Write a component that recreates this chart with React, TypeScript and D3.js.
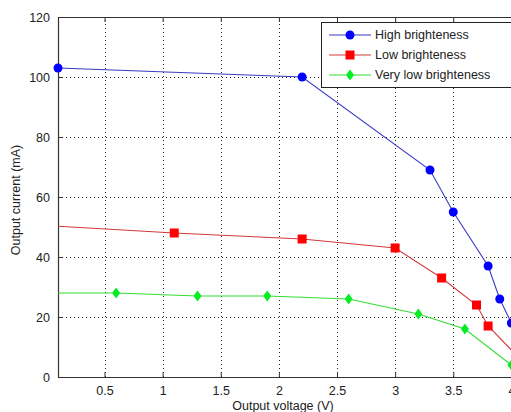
import React, { useEffect, useRef } from "react";
import * as d3 from "d3";

// output voltage (V) / output current (mA)
const highX = [0.1, 2.2, 3.3, 3.5, 3.8, 3.9, 4.0, 4.1];
const highY = [103, 100, 69, 55, 37, 26, 18, 8];
const lowX = [0, 1.1, 2.2, 3.0, 3.4, 3.7, 3.8, 4.1];
const lowY = [50.5, 48, 46, 43, 33, 24, 17, 5];
const veryLowX = [0, 0.6, 1.3, 1.9, 2.6, 3.2, 3.6, 4.0];
const veryLowY = [28, 28, 27, 27, 26, 21, 16, 4];

const seriesNames = ["High brighteness", "Low brighteness", "Very low brighteness"];
const xTicks = [0.5, 1, 1.5, 2, 2.5, 3, 3.5, 4];
const yTicks = [0, 20, 40, 60, 80, 100, 120];

const App = () => {
  const ref = useRef<SVGSVGElement>(null);

  useEffect(() => {
    drawChart();
  }, []);

  const drawChart = () => {
    const width = 511,
      height = 412;
    const margin = { top: 17, right: -12, bottom: 35, left: 58 };

    const svg = d3.select(ref.current);
    svg.selectAll("*").remove();

    const x = d3
      .scaleLinear()
      .domain([0.1, 4.1])
      .range([margin.left, width - margin.right]);
    const y = d3
      .scaleLinear()
      .domain([0, 120])
      .range([height - margin.bottom, margin.top]);

    const x0 = margin.left,
      x1 = width - margin.right,
      y0 = height - margin.bottom,
      y1 = margin.top;

    svg.append("rect").attr("x", 0).attr("y", 0).attr("width", width).attr("height", height).attr("fill", "#fff");

    svg
      .append("defs")
      .append("clipPath")
      .attr("id", "plot-clip")
      .append("rect")
      .attr("x", x0)
      .attr("y", y1)
      .attr("width", x1 - x0)
      .attr("height", y0 - y1);

    // grid
    const grid = svg.append("g").attr("stroke", "#222").attr("stroke-width", 1).attr("stroke-dasharray", "1,3");
    grid
      .selectAll("line.gx")
      .data(xTicks)
      .join("line")
      .attr("x1", (d) => Math.round(x(d)) + 0.5)
      .attr("x2", (d) => Math.round(x(d)) + 0.5)
      .attr("y1", y0)
      .attr("y2", y1);
    grid
      .selectAll("line.gy")
      .data(yTicks.filter((d) => d > 0 && d < 120))
      .join("line")
      .attr("x1", x0)
      .attr("x2", x1)
      .attr("y1", (d) => Math.round(y(d)) + 0.5)
      .attr("y2", (d) => Math.round(y(d)) + 0.5);

    // axes
    const xAxis = (g) =>
      g
        .attr("transform", `translate(0,${y0})`)
        .call(d3.axisBottom(x).tickValues(xTicks).tickSizeInner(-5).tickSizeOuter(0).tickPadding(9).tickFormat(d3.format("")))
        .call((g) => g.select(".domain").remove());
    const xAxisTop = (g) =>
      g
        .attr("transform", `translate(0,${y1})`)
        .call(d3.axisTop(x).tickValues(xTicks).tickSizeInner(-5).tickSizeOuter(0).tickFormat(() => ""))
        .call((g) => g.select(".domain").remove());
    const yAxis = (g) =>
      g
        .attr("transform", `translate(${x0},0)`)
        .call(d3.axisLeft(y).tickValues(yTicks).tickSizeInner(-5).tickSizeOuter(0).tickPadding(8))
        .call((g) => g.select(".domain").remove());

    [xAxis, xAxisTop, yAxis].forEach((ax) => {
      svg
        .append("g")
        .call(ax)
        .attr("font-family", "Arial, 'Liberation Sans', sans-serif")
        .attr("font-size", 12.5)
        .call((g) => g.selectAll("line").attr("stroke", "#333"))
        .call((g) => g.selectAll("text").attr("fill", "#222"));
    });

    svg
      .append("path")
      .attr("d", `M${x0 + 0.5},${y0 + 0.5}V${y1 + 0.5}H${x1}`)
      .attr("fill", "none")
      .attr("stroke", "#333")
      .attr("stroke-width", 1.2);
    svg
      .append("line")
      .attr("x1", x0)
      .attr("x2", x1)
      .attr("y1", y0 + 0.5)
      .attr("y2", y0 + 0.5)
      .attr("stroke", "#333")
      .attr("stroke-width", 1.2);

    const series = [
      { name: seriesNames[0], xs: highX, ys: highY, line: "#3a3ac6", fill: "#0000ff", shape: "circle" },
      { name: seriesNames[1], xs: lowX, ys: lowY, line: "#d23a3a", fill: "#ff0000", shape: "square" },
      { name: seriesNames[2], xs: veryLowX, ys: veryLowY, line: "#33dd33", fill: "#00ee22", shape: "diamond" },
    ];

    const marker = (g, s, cx, cy) => {
      if (s.shape === "circle") {
        g.append("circle").attr("cx", cx).attr("cy", cy).attr("r", 4.5).attr("fill", s.fill);
      } else if (s.shape === "square") {
        g.append("rect").attr("x", cx - 4.5).attr("y", cy - 4.5).attr("width", 9).attr("height", 9).attr("fill", s.fill);
      } else {
        g.append("path")
          .attr("d", `M${cx},${cy - 5.5}L${cx + 4},${cy}L${cx},${cy + 5.5}L${cx - 4},${cy}Z`)
          .attr("fill", s.fill);
      }
    };

    const line = d3
      .line<[number, number]>()
      .x((d) => x(d[0]))
      .y((d) => y(d[1]));

    series.forEach((s) => {
      const pts: [number, number][] = s.xs.map((v, i) => [v, s.ys[i]]);
      svg
        .append("path")
        .attr("clip-path", "url(#plot-clip)")
        .attr("d", line(pts))
        .attr("fill", "none")
        .attr("stroke", s.line)
        .attr("stroke-width", 1.1);
      const mg = svg.append("g");
      pts.filter((p) => p[0] >= 0.1).forEach((p) => marker(mg, s, x(p[0]), y(p[1])));
    });

    // legend
    const lg = svg.append("g").attr("transform", "translate(321,22)");
    lg.append("rect")
      .attr("x", 0.5)
      .attr("y", 0.5)
      .attr("width", 190)
      .attr("height", 65)
      .attr("fill", "#fff")
      .attr("stroke", "#222")
      .attr("stroke-width", 1);
    series.forEach((s, i) => {
      const cy = 13 + i * 20;
      const g = lg.append("g");
      g.append("line").attr("x1", 8).attr("x2", 50).attr("y1", cy).attr("y2", cy).attr("stroke", s.line).attr("stroke-width", 1.1);
      marker(g, s, 29, cy);
      g.append("text")
        .attr("x", 54)
        .attr("y", cy)
        .attr("dy", "0.35em")
        .attr("font-family", "Arial, 'Liberation Sans', sans-serif")
        .attr("font-size", 12.5)
        .attr("fill", "#222")
        .text(s.name);
    });

    // axis titles
    svg
      .append("text")
      .attr("x", 283)
      .attr("y", 410)
      .attr("text-anchor", "middle")
      .attr("font-family", "Arial, 'Liberation Sans', sans-serif")
      .attr("font-size", 12.5)
      .attr("fill", "#222")
      .text("Output voltage (V)");
    svg
      .append("text")
      .attr("transform", "translate(20,200) rotate(-90)")
      .attr("text-anchor", "middle")
      .attr("font-family", "Arial, 'Liberation Sans', sans-serif")
      .attr("font-size", 12.5)
      .attr("fill", "#222")
      .text("Output current (mA)");
  };

  return (
    <div style={{ position: "absolute", left: 0, top: 0 }}>
      <svg ref={ref} width={511} height={412} style={{ display: "block" }}></svg>
    </div>
  );
};

export default App;
